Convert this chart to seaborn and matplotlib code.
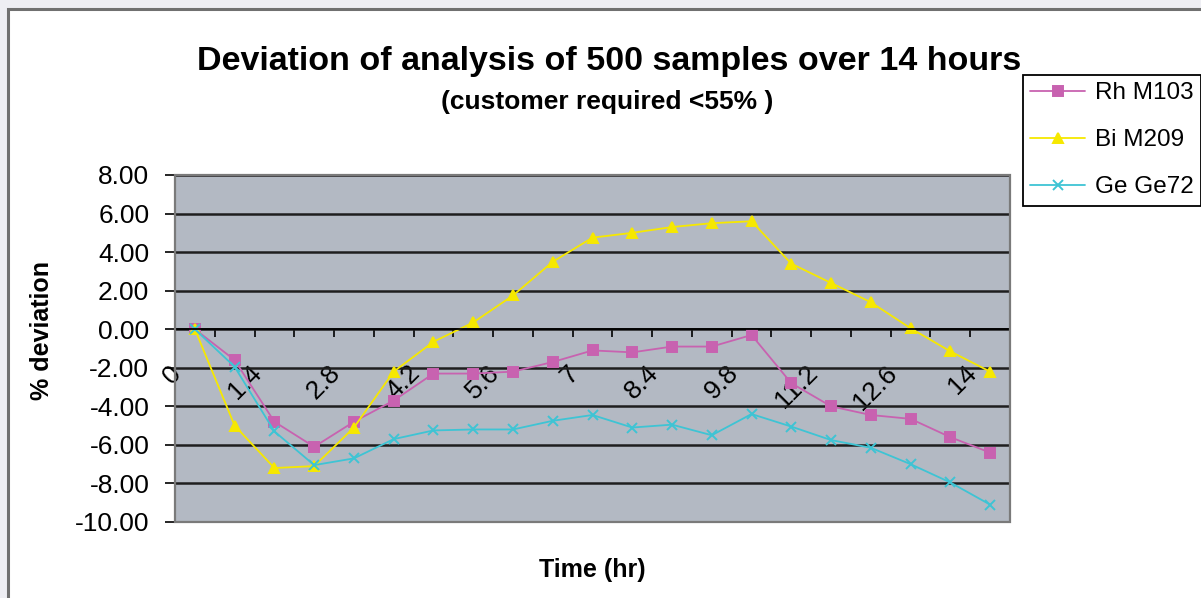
import numpy as np
import pandas as pd
import matplotlib
matplotlib.use('Agg')
import matplotlib.pyplot as plt
import matplotlib.transforms as mtransforms
from matplotlib.patches import Rectangle
import seaborn as sns

# sampling times (hours), one category per point
time_hr = [0, 0.7, 1.4, 2.1, 2.8, 3.5, 4.2, 4.9, 5.6, 6.3, 7,
           7.7, 8.4, 9.1, 9.8, 10.5, 11.2, 11.9, 12.6, 13.3, 14]

# % deviation per element
rh_m103 = [0.0, -1.6, -4.8, -6.1, -4.8, -3.7, -2.3, -2.3, -2.2, -1.7, -1.1,
           -1.2, -0.9, -0.9, -0.3, -2.8, -4.0, -4.45, -4.65, -5.6, -6.4]
bi_m209 = [0.0, -5.0, -7.2, -7.1, -5.1, -2.2, -0.65, 0.35, 1.75, 3.5, 4.75,
           5.0, 5.3, 5.5, 5.6, 3.4, 2.4, 1.4, 0.05, -1.15, -2.2]
ge_ge72 = [0.0, -1.95, -5.3, -7.05, -6.7, -5.7, -5.25, -5.2, -5.2, -4.75, -4.45,
           -5.1, -4.95, -5.5, -4.4, -5.05, -5.75, -6.15, -7.0, -7.95, -9.1]

series_names = ['Rh M103', 'Bi M209', 'Ge Ge72']
series_colors = ['#C862B0', '#F6E800', '#3EC4D4']
series_markers = ['s', '^', 'x']
y_ticks = [8, 6, 4, 2, 0, -2, -4, -6, -8, -10]

df = pd.DataFrame({'idx': np.arange(len(time_hr)),
                   'Rh M103': rh_m103, 'Bi M209': bi_m209, 'Ge Ge72': ge_ge72})

sns.set_style('white')
plt.rcParams['font.family'] = ['Liberation Sans', 'DejaVu Sans']
plt.rcParams['text.color'] = 'black'
plt.rcParams['xtick.color'] = 'black'
plt.rcParams['ytick.color'] = 'black'

W, H = 1201, 598
fig = plt.figure(figsize=(W / 100, H / 100), dpi=100, facecolor='#EEEEF3')

# outer chart frame (runs off the right/bottom edge like the source)
fig.add_artist(Rectangle((8 / W, -0.1), 1.2, 1.1 - 9 / H, transform=fig.transFigure,
                         facecolor='white', edgecolor='#707070', linewidth=2.2, zorder=-1))

ax = fig.add_axes([175 / W, 1 - 522 / H, 835 / W, 347 / H])
ax.set_facecolor('#B3B9C3')

for name, color, marker in zip(series_names, series_colors, series_markers):
    sns.lineplot(data=df, x='idx', y=name, color=color, marker=marker,
                 markersize=7.5 if marker != 's' else 6.5,
                 markeredgecolor=color, markeredgewidth=1.4,
                 linewidth=1.3, label=name, legend=False, ax=ax)

ax.set_xlim(-0.5, len(time_hr) - 0.5)
ax.set_ylim(-10, 8)
ax.set_xlabel('')
ax.set_ylabel('')

# axis line crosses at zero, Excel style
ax.spines['bottom'].set_position(('data', 0))
ax.spines['top'].set_visible(False)
ax.spines['right'].set_visible(False)
for sp in ['bottom', 'left']:
    ax.spines[sp].set_color('black')
    ax.spines[sp].set_linewidth(1.3)
ax.add_patch(Rectangle((0, 0), 1, 1, transform=ax.transAxes, fill=False,
                       edgecolor='#7A7A7A', linewidth=1.6, zorder=3, clip_on=False))

ax.set_yticks(y_ticks)
ax.set_yticklabels([f'{v:.2f}' for v in y_ticks])
ax.yaxis.grid(True, color='#1E1E1E', linewidth=1.8)
ax.xaxis.grid(False)
ax.set_axisbelow(True)
ax.tick_params(axis='y', direction='out', length=7, width=1.2, color='black',
               labelsize=19, pad=11.5, left=True)

ax.set_xticks(np.arange(len(time_hr) + 1) - 0.5)
ax.set_xticklabels([])
ax.tick_params(axis='x', which='major', direction='out', length=6, width=1.2,
               color='black', bottom=True)
ax.set_xticks(np.arange(0, len(time_hr), 2),
              labels=[f'{t:g}' for t in time_hr[::2]], minor=True)
ax.tick_params(axis='x', which='minor', length=0, labelsize=19, pad=29)
shift = mtransforms.ScaledTranslation(-17 / 100, 0, fig.dpi_scale_trans)
for lab in ax.get_xticklabels(minor=True):
    lab.set_rotation(45)
    lab.set_rotation_mode('anchor')
    lab.set_ha('right')
    lab.set_va('center')
    lab.set_transform(lab.get_transform() + shift)

fig.text(609.5 / W, 1 - 70 / H, 'Deviation of analysis of 500 samples over 14 hours',
         ha='center', va='baseline', fontsize=24.5, fontweight='bold')
fig.text(607 / W, 1 - 109 / H, '(customer required <55% )',
         ha='center', va='baseline', fontsize=19, fontweight='bold')
fig.text(592 / W, 1 - 577 / H, 'Time (hr)', ha='center', va='baseline',
         fontsize=18, fontweight='bold')
fig.text(42 / W, 1 - 331 / H, '% deviation', ha='center', va='center',
         rotation=90, fontsize=18, fontweight='bold')

handles, labels = ax.get_legend_handles_labels()
leg = fig.legend(handles, labels, loc='upper left',
                 bbox_to_anchor=(1023 / W, 1 - 75 / H), bbox_transform=fig.transFigure,
                 frameon=True, fancybox=False, edgecolor='black', framealpha=1,
                 fontsize=17.5, labelspacing=1.03, handlelength=2.25,
                 handletextpad=0.4, borderpad=0.3, borderaxespad=0)
leg.get_frame().set_linewidth(1.3)

fig.savefig('out.png', dpi=100, facecolor=fig.get_facecolor())
